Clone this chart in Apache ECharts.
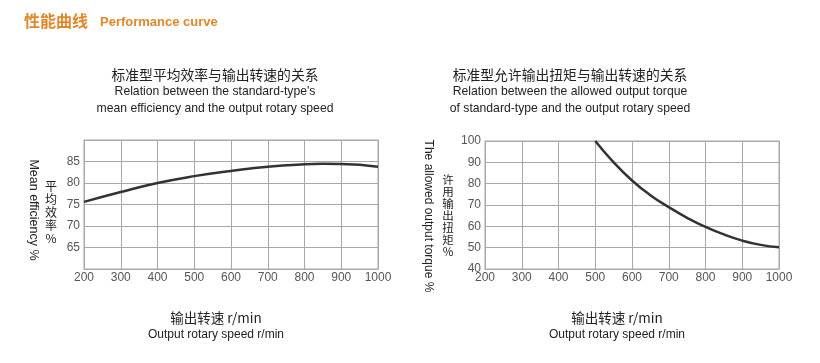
<!DOCTYPE html>
<html><head><meta charset="utf-8">
<script src="https://cdn.jsdelivr.net/npm/echarts@6/dist/echarts.min.js"></script>
<style>html,body{margin:0;padding:0;background:#fff;}#c{width:820px;height:363px;}</style>
</head><body><div id="c"></div>
<script>
// Data
const effSpeed = [200, 300, 400, 500, 600, 700, 800, 850, 900, 1000];
const effValues = [75.6, 77.9, 80.0, 81.6, 82.8, 83.8, 84.35, 84.45, 84.4, 83.8];
const torqueSpeed = [500, 550, 600, 650, 700, 750, 800, 850, 900, 950, 1000];
const torqueValues = [100, 90.0, 81.5, 74.6, 69.0, 64.0, 59.7, 56.2, 53.3, 51.3, 50.2];
const xTicks = [200, 300, 400, 500, 600, 700, 800, 900, 1000];
const effYTicks = [65, 70, 75, 80, 85];
const torqueYTicks = [40, 50, 60, 70, 80, 90, 100];

const EN = '"Liberation Sans", Arial, sans-serif';
const CN = '"Noto Sans CJK SC", sans-serif';
const gridLine = '#a8a8a8';
const labelColor = '#555';

function xAxis(idx) {
  return {
    gridIndex: idx, type: 'value', min: 200, max: 1000, interval: 100,
    axisLine: {show: true, lineStyle: {color: gridLine}},
    axisTick: {show: false},
    splitLine: {show: true, lineStyle: {color: gridLine, width: 1}},
    axisLabel: {color: labelColor, fontSize: 12, fontFamily: EN, margin: 3,
      formatter: v => xTicks.includes(v) ? String(v) : ''}
  };
}
function yAxis(idx, min, max, interval, ticks) {
  return {
    gridIndex: idx, type: 'value', min: min, max: max, interval: interval,
    axisLine: {show: true, lineStyle: {color: gridLine}},
    axisTick: {show: false},
    splitLine: {show: true, lineStyle: {color: gridLine, width: 1}},
    axisLabel: {color: labelColor, fontSize: 12, fontFamily: EN, margin: 4,
      formatter: v => ticks.includes(v) ? String(v) : ''}
  };
}
const chart = echarts.init(document.getElementById('c'));
const t = (x, y, text, o) => Object.assign({type: 'text', x: x, y: y,
  style: Object.assign({text: text, fill: '#222', fontSize: 12, fontFamily: EN, align: 'center', verticalAlign: 'middle'}, o || {})});

chart.setOption({
  animation: false,
  backgroundColor: '#fff',
  grid: [
    {left: 84, right: 442, top: 140, height: 129, show: true, borderColor: gridLine, borderWidth: 1},
    {left: 485, right: 41, top: 141, height: 128, show: true, borderColor: gridLine, borderWidth: 1}
  ],
  xAxis: [xAxis(0), xAxis(1)],
  yAxis: [yAxis(0, 60, 90, 5, effYTicks), yAxis(1, 40, 100, 10, torqueYTicks)],
  series: [
    {type: 'line', xAxisIndex: 0, yAxisIndex: 0, smooth: true, showSymbol: false,
     lineStyle: {color: '#333', width: 2.5}, data: effSpeed.map((s, i) => [s, effValues[i]])},
    {type: 'line', xAxisIndex: 1, yAxisIndex: 1, smooth: true, showSymbol: false,
     lineStyle: {color: '#333', width: 2.5}, data: torqueSpeed.map((s, i) => [s, torqueValues[i]])}
  ],
  graphic: [
    t(24, 21, '性能曲线', {align: 'left', fontFamily: CN, fontWeight: 'bold', fontSize: 16, fill: '#e0872a'}),
    t(100, 22, 'Performance curve', {align: 'left', fontWeight: 'bold', fontSize: 13, fill: '#e0872a'}),
    // left titles
    t(215, 75, '标准型平均效率与输出转速的关系', {fontFamily: CN, fontSize: 13.8}),
    t(215, 92, "Relation between the standard-type's", {fontSize: 12.2}),
    t(215, 109, 'mean efficiency and the output rotary speed', {fontSize: 12.2}),
    // right titles
    t(570, 75, '标准型允许输出扭矩与输出转速的关系', {fontFamily: CN, fontSize: 13.8}),
    t(570, 92, 'Relation between the allowed output torque', {fontSize: 12.2}),
    t(570, 109, 'of standard-type and the output rotary speed', {fontSize: 12.2}),
    // left y names
    {type: 'text', x: 33, y: 210, rotation: -Math.PI / 2,
     style: {text: 'Mean efficiency %', fontSize: 12.5, fontFamily: EN, fill: '#222', align: 'center', verticalAlign: 'middle'}},
    t(51, 212, '平\n均\n效\n率\n%', {fontFamily: CN, fontSize: 12, lineHeight: 13}),
    // right y names
    {type: 'text', x: 428, y: 216, rotation: -Math.PI / 2,
     style: {text: 'The allowed output torque %', fontSize: 12, fontFamily: EN, fill: '#222', align: 'center', verticalAlign: 'middle'}},
    t(448, 216, '许\n用\n输\n出\n扭\n矩\n%', {fontFamily: CN, fontSize: 11.5, lineHeight: 12}),
    // bottom axis names
    t(216, 318, '输出转速 r/min', {fontFamily: CN, fontSize: 13.5}),
    t(216, 335, 'Output rotary speed r/min', {fontSize: 12}),
    t(617, 318, '输出转速 r/min', {fontFamily: CN, fontSize: 13.5}),
    t(617, 335, 'Output rotary speed r/min', {fontSize: 12})
  ]
});
</script></body></html>
